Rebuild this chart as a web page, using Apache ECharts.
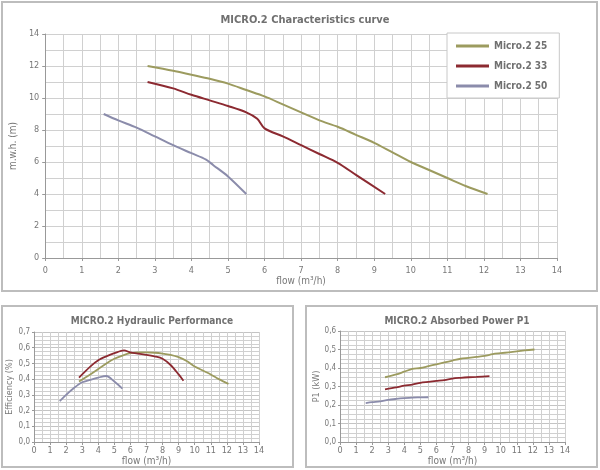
<!DOCTYPE html>
<html>
<head>
<meta charset="utf-8">
<script src="https://cdn.jsdelivr.net/npm/echarts@6/dist/echarts.min.js"></script>
<style>
  html, body { margin: 0; padding: 0; background: #fff; }
  #chart { width: 600px; height: 470px; }
</style>
</head>
<body>
<div id="chart"></div>
<script>
// series names
var names = ['Micro.2 25', 'Micro.2 33', 'Micro.2 50'];
var colors = ['#9c9b5f', '#8c2a31', '#8b8cab'];

// characteristics curve (flow m3/h -> head m)
var headFlow25 = [2.8, 3.5, 4, 4.5, 5, 5.5, 6, 6.5, 7, 7.5, 8, 8.5, 9, 9.5, 10, 10.5, 11, 11.5, 12.1];
var head25     = [12.0, 11.7, 11.45, 11.2, 10.9, 10.5, 10.1, 9.6, 9.1, 8.6, 8.2, 7.7, 7.2, 6.6, 6.0, 5.5, 5.0, 4.5, 4.0];
var headFlow33 = [2.8, 3.5, 4, 4.5, 5, 5.5, 5.8, 6, 6.5, 7, 7.5, 8, 8.5, 9.3];
var head33     = [11.0, 10.6, 10.2, 9.85, 9.5, 9.1, 8.7, 8.1, 7.6, 7.05, 6.5, 5.95, 5.2, 4.0];
var headFlow50 = [1.6, 2, 2.5, 3, 3.5, 4, 4.4, 4.6, 5, 5.5];
var head50     = [9.0, 8.6, 8.15, 7.6, 7.05, 6.55, 6.15, 5.8, 5.1, 4.0];

// hydraulic performance (flow -> efficiency)
var effFlow25 = [2.8, 3.5, 4, 4.5, 5, 5.5, 6, 6.5, 7, 7.5, 8, 8.5, 9, 9.5, 10, 10.5, 11, 11.5, 12.1];
var eff25     = [0.385, 0.43, 0.465, 0.5, 0.53, 0.55, 0.565, 0.57, 0.57, 0.568, 0.563, 0.555, 0.54, 0.515, 0.48, 0.455, 0.43, 0.4, 0.37];
var effFlow33 = [2.8, 3.5, 4, 4.5, 5, 5.6, 6, 6.5, 7, 7.5, 8, 8.5, 9, 9.3];
var eff33     = [0.41, 0.48, 0.52, 0.545, 0.565, 0.583, 0.57, 0.562, 0.555, 0.545, 0.53, 0.49, 0.43, 0.39];
var effFlow50 = [1.6, 2, 2.5, 3, 3.5, 4, 4.5, 5, 5.5];
var eff50     = [0.26, 0.3, 0.345, 0.38, 0.395, 0.41, 0.42, 0.385, 0.34];

// absorbed power P1 (flow -> kW)
var powFlow25 = [2.8, 3.5, 4, 4.5, 5, 5.5, 6, 6.5, 7, 7.5, 8, 8.5, 9, 9.5, 10, 10.5, 11, 11.5, 12.1];
var pow25     = [0.35, 0.365, 0.38, 0.395, 0.4, 0.41, 0.42, 0.43, 0.44, 0.45, 0.455, 0.46, 0.465, 0.475, 0.48, 0.485, 0.49, 0.495, 0.5];
var powFlow33 = [2.8, 3.5, 4, 4.5, 5, 5.5, 6, 6.5, 7, 7.5, 8, 8.5, 9.3];
var pow33     = [0.285, 0.295, 0.305, 0.31, 0.32, 0.325, 0.33, 0.335, 0.343, 0.347, 0.35, 0.352, 0.356];
var powFlow50 = [1.6, 2, 2.5, 3, 3.5, 4, 4.5, 5, 5.5];
var pow50     = [0.21, 0.215, 0.22, 0.228, 0.233, 0.237, 0.24, 0.241, 0.242];

function zip(xs, ys) {
    return xs.map(function (x, i) { return [x, ys[i]]; });
}

var font = "'Liberation Sans Narrow', 'DejaVu Sans Condensed', 'Liberation Sans', sans-serif";
var txt = '#777';
var gridColor = '#d0d0d0';

function comma(v) { return v.toFixed(1).replace('.', ','); }

function xAxisFor(idx, gap, margin) {
    return {
        type: 'value', gridIndex: idx, min: 0, max: 14, interval: 1,
        name: 'flow (m³/h)', nameLocation: 'middle', nameGap: gap,
        nameTextStyle: { color: txt, fontFamily: font, fontSize: 10 },
        axisLine: { show: true, lineStyle: { color: '#999' } },
        axisTick: { show: true, length: 3, lineStyle: { color: '#999' } },
        axisLabel: { color: txt, fontFamily: font, fontSize: 9, margin: margin },
        splitLine: { show: true, lineStyle: { color: gridColor, width: 1 } },
        minorTick: { show: false, splitNumber: 2 },
        minorSplitLine: { show: true, lineStyle: { color: gridColor, width: 1 } }
    };
}

var chart = echarts.init(document.getElementById('chart'));

var option = {
    backgroundColor: '#fff',
    animation: false,
    color: colors,
    graphic: [
        { type: 'rect', shape: { x: 2, y: 2, width: 595, height: 289 }, style: { fill: 'none', stroke: '#bdbdbd', lineWidth: 2 }, z: -1 },
        { type: 'rect', shape: { x: 2, y: 306, width: 291, height: 161 }, style: { fill: 'none', stroke: '#bdbdbd', lineWidth: 2 }, z: -1 },
        { type: 'rect', shape: { x: 306, y: 306, width: 291, height: 161 }, style: { fill: 'none', stroke: '#bdbdbd', lineWidth: 2 }, z: -1 }
    ],
    title: [
        { text: 'MICRO.2 Characteristics curve', left: 300, top: 10, textAlign: 'center',
          textStyle: { color: '#707070', fontFamily: font, fontSize: 11, fontWeight: 'bold' } },
        { text: 'MICRO.2 Hydraulic Performance', left: 147, top: 311, textAlign: 'center',
          textStyle: { color: '#707070', fontFamily: font, fontSize: 10, fontWeight: 'bold' } },
        { text: 'MICRO.2 Absorbed Power P1', left: 452, top: 311, textAlign: 'center',
          textStyle: { color: '#707070', fontFamily: font, fontSize: 10, fontWeight: 'bold' } }
    ],
    legend: {
        data: names,
        orient: 'vertical',
        left: 447, top: 33,
        padding: [6, 12, 5, 9],
        itemGap: 6,
        itemWidth: 33, itemHeight: 3,
        icon: 'rect',
        backgroundColor: '#fff',
        borderColor: '#c8c8c8', borderWidth: 1,
        textStyle: { color: '#707070', fontFamily: font, fontSize: 10, fontWeight: 'bold', lineHeight: 14 }
    },
    grid: [
        { left: 42, top: 34, width: 515, height: 224 },
        { left: 34, top: 332, width: 225, height: 110 },
        { left: 340, top: 331, width: 225, height: 111 }
    ],
    xAxis: [
        xAxisFor(0, 18, 8),
        xAxisFor(1, 14, 4),
        xAxisFor(2, 14, 4)
    ],
    yAxis: [
        {
            type: 'value', gridIndex: 0, min: 0, max: 14, interval: 2,
            name: 'm.w.h. (m)', nameLocation: 'middle', nameGap: 25,
            nameTextStyle: { color: txt, fontFamily: font, fontSize: 10 },
            axisLine: { show: true, lineStyle: { color: '#999' } },
            axisTick: { show: true, length: 3, lineStyle: { color: '#999' } },
            axisLabel: { color: txt, fontFamily: font, fontSize: 9, margin: 6 },
            splitLine: { show: true, lineStyle: { color: gridColor } },
            minorTick: { show: false, splitNumber: 2 },
            minorSplitLine: { show: true, lineStyle: { color: gridColor } }
        },
        {
            type: 'value', gridIndex: 1, min: 0, max: 0.7, interval: 0.1,
            name: 'Efficiency (%)', nameLocation: 'middle', nameGap: 20,
            nameTextStyle: { color: txt, fontFamily: font, fontSize: 9 },
            axisLine: { show: true, lineStyle: { color: '#999' } },
            axisTick: { show: true, length: 2, lineStyle: { color: '#999' } },
            axisLabel: { color: txt, fontFamily: font, fontSize: 8, margin: 4, formatter: comma },
            splitLine: { show: true, lineStyle: { color: '#c4c4c4' } },
            minorTick: { show: false, splitNumber: 4 },
            minorSplitLine: { show: true, lineStyle: { color: gridColor } }
        },
        {
            type: 'value', gridIndex: 2, min: 0, max: 0.6, interval: 0.1,
            name: 'P1 (kW)', nameLocation: 'middle', nameGap: 18,
            nameTextStyle: { color: txt, fontFamily: font, fontSize: 9 },
            axisLine: { show: true, lineStyle: { color: '#999' } },
            axisTick: { show: true, length: 2, lineStyle: { color: '#999' } },
            axisLabel: { color: txt, fontFamily: font, fontSize: 8, margin: 4, formatter: comma },
            splitLine: { show: true, lineStyle: { color: '#c4c4c4' } },
            minorTick: { show: false, splitNumber: 4 },
            minorSplitLine: { show: true, lineStyle: { color: gridColor } }
        }
    ],
    series: []
};

var headSets = [zip(headFlow25, head25), zip(headFlow33, head33), zip(headFlow50, head50)];
var effSets  = [zip(effFlow25, eff25), zip(effFlow33, eff33), zip(effFlow50, eff50)];
var powSets  = [zip(powFlow25, pow25), zip(powFlow33, pow33), zip(powFlow50, pow50)];

[headSets, effSets, powSets].forEach(function (sets, g) {
    sets.forEach(function (data, i) {
        option.series.push({
            name: names[i],
            type: 'line',
            xAxisIndex: g, yAxisIndex: g,
            data: data,
            smooth: 0.3,
            showSymbol: false,
            lineStyle: { width: g === 0 ? 2 : 1.8, color: colors[i] },
            itemStyle: { color: colors[i] }
        });
    });
});

chart.setOption(option);
</script>
</body>
</html>
